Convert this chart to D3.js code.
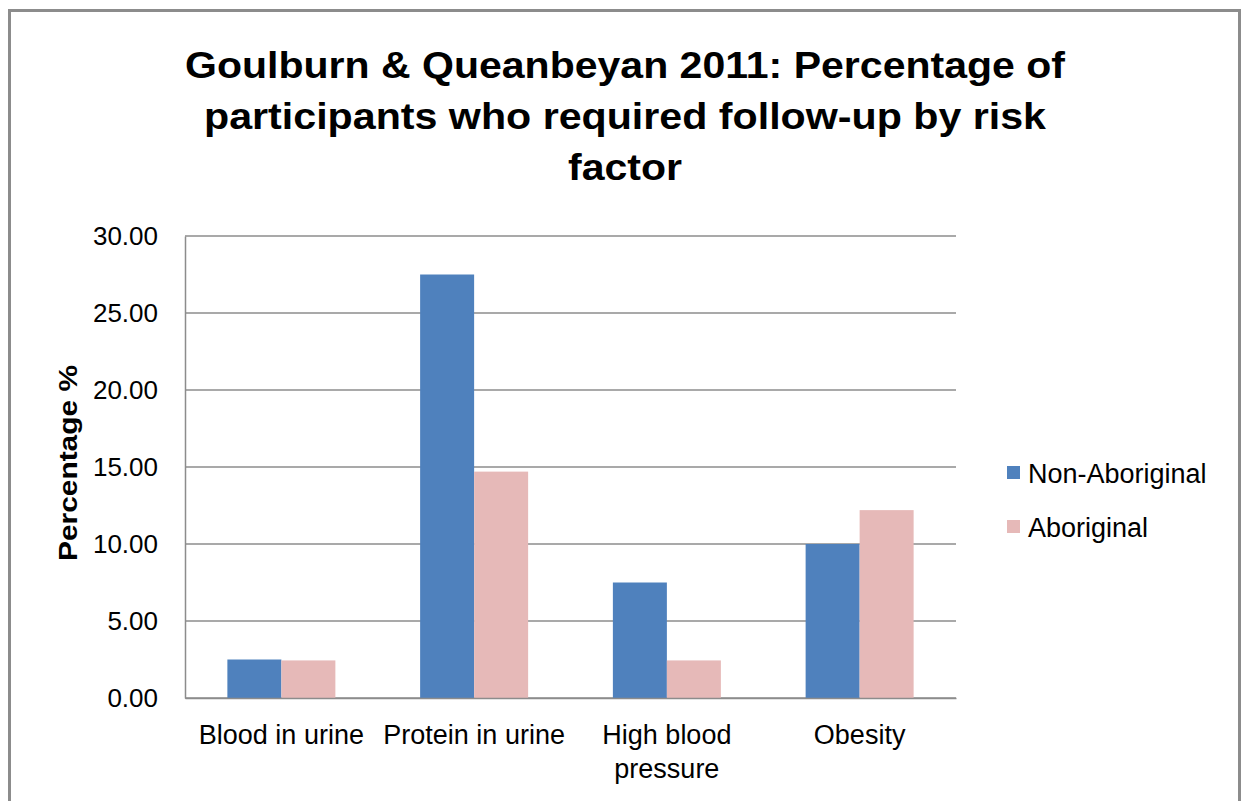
<!DOCTYPE html>
<html>
<head>
<meta charset="utf-8">
<script src="https://cdn.jsdelivr.net/npm/d3@7"></script>
<style>
  body { margin: 0; background: #fff; }
  svg { display: block; font-family: "Liberation Sans", Arial, sans-serif; }
</style>
</head>
<body>
<svg id="chart" width="1242" height="801"></svg>
<script>
// data
const categories = ["Blood in urine", "Protein in urine", "High blood pressure", "Obesity"];
const categoryLines = [["Blood in urine"], ["Protein in urine"], ["High blood", "pressure"], ["Obesity"]];
const seriesNames = ["Non-Aboriginal", "Aboriginal"];
const nonAboriginal = [2.50, 27.50, 7.50, 10.00];
const aboriginal = [2.44, 14.70, 2.44, 12.20];
const yTicks = [0, 5, 10, 15, 20, 25, 30];
const titleLines = ["Goulburn & Queanbeyan 2011: Percentage of", "participants who required follow-up by risk", "factor"];
const titleWidths = [880, 842, 114];

const colors = ["#4F81BD", "#E6B9B8"];
const series = [nonAboriginal, aboriginal];

const svg = d3.select("#chart");

// outer frame
svg.append("rect")
  .attr("x", 9.5).attr("y", 10.5)
  .attr("width", 1230).attr("height", 820)
  .attr("fill", "#fff")
  .attr("stroke", "#8c8c8c")
  .attr("stroke-width", 3);

// title (original is rendered a bit wider than Arial)
svg.append("g")
  .selectAll("text")
  .data(titleLines)
  .enter()
  .append("text")
  .attr("x", 625)
  .attr("y", (d, i) => 78 + i * 51)
  .attr("text-anchor", "middle")
  .attr("textLength", (d, i) => titleWidths[i])
  .attr("lengthAdjust", "spacingAndGlyphs")
  .style("font-size", "37px")
  .style("font-weight", "bold")
  .text(d => d);

const margin = { left: 185, top: 236, right: 956, bottom: 698 };

const x = d3.scaleBand()
  .domain(categories)
  .range([margin.left, margin.right])
  .paddingInner(0)
  .paddingOuter(0);

const groupPad = (x.bandwidth() - 108) / 2;
const xs = d3.scaleBand()
  .domain(seriesNames)
  .range([groupPad, x.bandwidth() - groupPad]);

const y = d3.scaleLinear()
  .domain([0, 30])
  .range([margin.bottom, margin.top]);

// gridlines
svg.append("g")
  .selectAll("line")
  .data(yTicks)
  .enter()
  .append("line")
  .attr("x1", margin.left)
  .attr("x2", margin.right)
  .attr("y1", d => y(d))
  .attr("y2", d => y(d))
  .attr("stroke", "#8c8c8c")
  .attr("stroke-width", 1.5);

// y axis
const yAxis = svg.append("g")
  .attr("transform", `translate(${margin.left},0)`)
  .call(d3.axisLeft(y).tickValues(yTicks).tickFormat(d3.format(".2f")).tickSize(0).tickPadding(27));
yAxis.select(".domain").attr("stroke", "#8c8c8c").attr("stroke-width", 1.5);
yAxis.selectAll("text")
  .style("font-size", "26px")
  .style("font-family", "Liberation Sans, Arial, sans-serif")
  .attr("fill", "#000");

// bars
svg.append("g")
  .selectAll("g")
  .data(series)
  .enter()
  .append("g")
  .attr("fill", (d, i) => colors[i])
  .each(function (vals, si) {
    d3.select(this)
      .selectAll("rect")
      .data(vals)
      .enter()
      .append("rect")
      .attr("x", (d, i) => x(categories[i]) + xs(seriesNames[si]))
      .attr("y", d => y(d))
      .attr("width", xs.bandwidth())
      .attr("height", d => y(0) - y(d));
  });

// x axis
const xAxis = svg.append("g")
  .attr("transform", `translate(0,${margin.bottom})`)
  .call(d3.axisBottom(x).tickSize(0).tickFormat(""));
xAxis.select(".domain").attr("stroke", "#8c8c8c").attr("stroke-width", 1.5);

svg.append("g")
  .selectAll("text")
  .data(categories)
  .enter()
  .append("text")
  .attr("x", d => x(d) + x.bandwidth() / 2)
  .attr("y", 744)
  .attr("text-anchor", "middle")
  .style("font-size", "27px")
  .each(function (d, i) {
    d3.select(this)
      .selectAll("tspan")
      .data(categoryLines[i])
      .enter()
      .append("tspan")
      .attr("x", x(d) + x.bandwidth() / 2)
      .attr("dy", (t, j) => j === 0 ? 0 : 34)
      .text(t => t);
  });

// y axis title
svg.append("text")
  .attr("transform", "translate(77,463) rotate(-90)")
  .attr("text-anchor", "middle")
  .attr("textLength", 196)
  .attr("lengthAdjust", "spacingAndGlyphs")
  .style("font-size", "26px")
  .style("font-weight", "bold")
  .text("Percentage %");

// legend
const legend = svg.append("g")
  .selectAll("g")
  .data(seriesNames)
  .enter()
  .append("g")
  .attr("transform", (d, i) => `translate(1007,${473 + i * 54})`);
legend.append("rect")
  .attr("x", 0).attr("y", -7)
  .attr("width", 13).attr("height", 13)
  .attr("fill", (d, i) => colors[i]);
legend.append("text")
  .attr("x", 21)
  .attr("y", 10)
  .style("font-size", "27px")
  .text(d => d);
</script>
</body>
</html>
